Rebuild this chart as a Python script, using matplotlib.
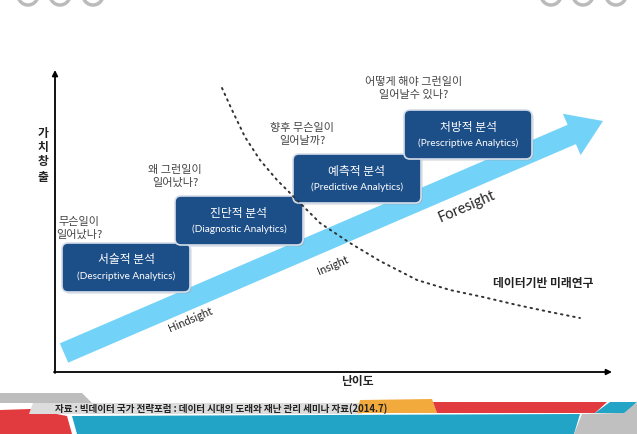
import numpy as np
import matplotlib
matplotlib.use("Agg")
import matplotlib.pyplot as plt
from matplotlib.patches import FancyArrow, FancyBboxPatch, Polygon, Circle

plt.rcParams['font.family'] = ['Noto Sans CJK KR', 'DejaVu Sans']

# analytics stages (box corners in picture pixels: left, top)
stage_ko = ['서술적 분석', '진단적 분석', '예측적 분석', '처방적 분석']
stage_en = ['(Descriptive Analytics)', '(Diagnostic Analytics)',
            '(Predictive Analytics)', '(Prescriptive Analytics)']
stage_left = [62, 175, 293, 404]
stage_top = [243, 196, 154, 110]
stage_w = 128
stage_h = 49

questions = [('무슨일이', '일어났나?'), ('왜 그런일이', '일어났나?'),
             ('향후 무슨일이', '일어날까?'), ('어떻게 해야 그런일이', '일어날수 있나?')]
question_x = [79, 175, 302, 414]
question_y = [222, 170, 128, 82]

sight_labels = ['Hindsight', 'Insight', 'Foresight']
sight_x = [190, 333, 467]
sight_y = [320, 265, 207]
sight_size = [8, 8, 10.5]

# dotted boundary curve
curve_x = [222, 232, 245, 260, 277, 297, 320, 350, 380, 417, 450, 483, 517, 550, 580]
curve_y = [88, 110, 137, 160, 180, 200, 223, 243, 261, 280, 290, 297, 305, 312, 318]

W, H = 637, 434
fig = plt.figure(figsize=(W / 100, H / 100), dpi=100)
ax = fig.add_axes([0, 0, 1, 1])
ax.set_xlim(0, W)
ax.set_ylim(H, 0)
ax.axis('off')

# axes arrows
ax.annotate('', xy=(55, 70), xytext=(55, 373),
            arrowprops=dict(arrowstyle='-|>', color='black', lw=1.3,
                            mutation_scale=8, shrinkA=0, shrinkB=0))
ax.annotate('', xy=(612, 372), xytext=(54, 372),
            arrowprops=dict(arrowstyle='-|>', color='black', lw=1.3,
                            mutation_scale=8, shrinkA=0, shrinkB=0))
for ch, yy in zip('가치창출', [134, 148, 162, 177]):
    ax.text(43, yy, ch, ha='center', va='center', fontsize=8.5,
            fontweight='bold', color='#222222')
ax.text(357, 382, '난이도', ha='center', va='center', fontsize=8.5,
        fontweight='bold', color='#222222')

# big light-blue arrow
ax.add_patch(FancyArrow(64, 353, 539, -232, width=21, head_width=45,
                        head_length=34, length_includes_head=True,
                        facecolor='#72D2F8', edgecolor='none', zorder=1))

for lab, x, y, s in zip(sight_labels, sight_x, sight_y, sight_size):
    ax.text(x, y, lab, ha='center', va='center', rotation=23.3,
            fontsize=s, color='#222222', family='Lato', zorder=2)

# stage boxes
for ko, en, l, t in zip(stage_ko, stage_en, stage_left, stage_top):
    ax.add_patch(FancyBboxPatch((l + 1.5, t + 1.5), stage_w, stage_h,
                                boxstyle='round,pad=0,rounding_size=6',
                                facecolor='#9aa4b0', edgecolor='none',
                                alpha=0.5, zorder=3))
    ax.add_patch(FancyBboxPatch((l, t), stage_w, stage_h,
                                boxstyle='round,pad=0,rounding_size=6',
                                facecolor='#1C4E88', edgecolor='#D5DEEA',
                                lw=1.2, zorder=4))
    ax.text(l + stage_w / 2, t + 17, ko, ha='center', va='center',
            fontsize=8.5, fontweight='medium', color='white', zorder=5)
    ax.text(l + stage_w / 2, t + 33, en, ha='center', va='center',
            fontsize=7.2, color='white', family='Lato', zorder=5)

for (q1, q2), x, y in zip(questions, question_x, question_y):
    ax.text(x, y, q1, ha='center', va='center', fontsize=8, color='#444444')
    ax.text(x, y + 13, q2, ha='center', va='center', fontsize=8, color='#444444')

ax.plot(curve_x, curve_y, color='#333333', lw=1.4,
        linestyle=(0, (0.8, 2.4)), dash_capstyle='round', zorder=6)
ax.text(543, 283, '데이터기반 미래연구', ha='center', va='center',
        fontsize=8.5, fontweight='bold', color='#222222')

# footer bands
footer = [
    ([(0, 393), (82, 393), (92, 403), (0, 403)], '#BDBDBD'),
    ([(0, 410), (30, 409), (67, 416), (72, 434), (0, 434)], '#E13B3F'),
    ([(72, 416), (580, 414), (574, 434), (77, 434)], '#22A4C6'),
    ([(582, 414), (617, 413), (637, 403), (637, 434), (574, 434)], '#C0C0C0'),
    ([(33, 403), (360, 403), (362, 414), (29, 414)], '#DCDCDC'),
    ([(357, 413), (360, 400), (432, 399), (437, 413)], '#F2AA3C'),
    ([(433, 402), (607, 402), (595, 413), (437, 413)], '#E13B3F'),
    ([(595, 413), (610, 402), (637, 402), (624, 413)], '#22A4C6'),
]
for pts, col in footer:
    ax.add_patch(Polygon(pts, closed=True, facecolor=col, edgecolor='none'))
ax.text(55, 408.5, '자료 : 빅데이터 국가 전략포럼 : 데이터 시대의 도래와 재난 관리 세미나 자료(2014.7)',
        ha='left', va='center', fontsize=6.9, fontweight='bold', color='#222222')

# window-style rings at the top edge
for cx in [28, 60, 93, 551, 583, 616]:
    ax.add_patch(Circle((cx, -5), 10, facecolor='none', edgecolor='#BBBBBB', lw=2.5))

fig.savefig('out.png', dpi=100)
